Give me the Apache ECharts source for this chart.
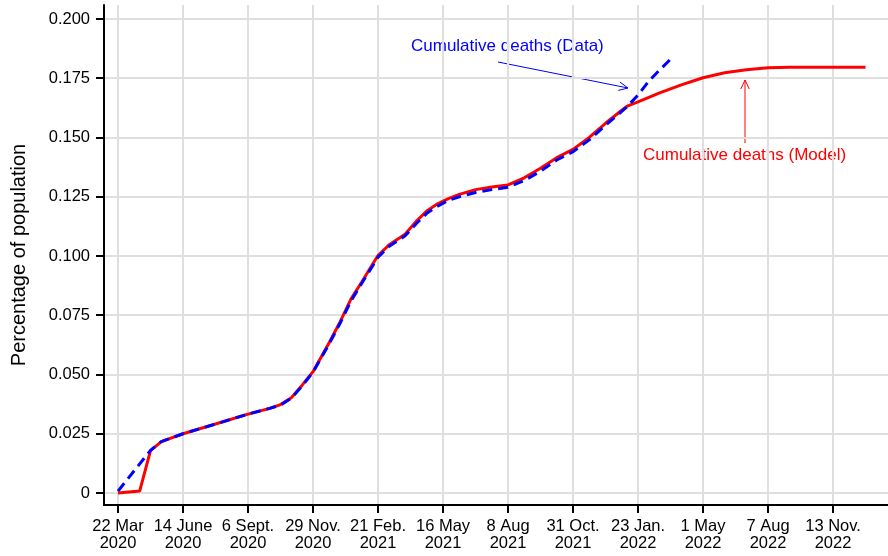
<!DOCTYPE html>
<html>
<head>
<meta charset="utf-8">
<script src="https://cdn.jsdelivr.net/npm/echarts@6/dist/echarts.min.js"></script>
<style>
  html, body { margin: 0; padding: 0; background: #fff; }
  #chart { width: 888px; height: 556px; }
</style>
</head>
<body>
<div id="chart"></div>
<script>
// x axis: weeks since 22 Mar 2020, one tick every 12 weeks
const tickWeeks = [0, 12, 24, 36, 48, 60, 72, 84, 96, 108, 120, 132];
const tickLabels = [
  "22 Mar\n2020", "14 June\n2020", "6 Sept.\n2020", "29 Nov.\n2020",
  "21 Feb.\n2021", "16 May\n2021", "8 Aug\n2021", "31 Oct.\n2021",
  "23 Jan.\n2022", "1 May\n2022", "7 Aug\n2022", "13 Nov.\n2022"
];
const yTicks = [0, 0.025, 0.05, 0.075, 0.1, 0.125, 0.15, 0.175, 0.2];

// Cumulative deaths (Model)
const modelWeeks = [0, 4, 6, 8, 12, 18, 24, 28, 30, 32, 34, 36, 39, 41, 43, 45, 47, 48, 50, 53, 55, 57, 59,
  61, 63, 66, 69, 72, 75, 78, 81, 84, 87, 90, 93, 94, 96, 100, 104, 108, 112, 116, 120, 124, 138];
const modelValues = [0.0000, 0.0008, 0.0179, 0.0217, 0.0250, 0.0291, 0.0333, 0.0357, 0.0373, 0.0402, 0.0455,
  0.0512, 0.0635, 0.0722, 0.0818, 0.0890, 0.0965, 0.1002, 0.1046, 0.1092, 0.1145, 0.1190, 0.1220,
  0.1242, 0.1260, 0.1280, 0.1291, 0.1300, 0.1330, 0.1370, 0.1415, 0.1450, 0.1500, 0.1560, 0.1615, 0.1632,
  0.1650, 0.1688, 0.1722, 0.1752, 0.1773, 0.1786, 0.1794, 0.1796, 0.1796];

// Cumulative deaths (Data)
const dataWeeks = [0, 6, 8, 12, 18, 24, 28, 30, 32, 34, 36, 39, 41, 43, 45, 47, 48, 50, 53, 55, 57, 59,
  61, 63, 66, 69, 72, 75, 78, 81, 84, 87, 90, 93, 94, 96, 98, 100, 102];
const dataValues = [0.0008, 0.0180, 0.0217, 0.0250, 0.0291, 0.0333, 0.0357, 0.0371, 0.0400, 0.0452, 0.0510,
  0.0630, 0.0716, 0.0810, 0.0885, 0.0958, 0.0995, 0.1040, 0.1085, 0.1135, 0.1180, 0.1210,
  0.1235, 0.1250, 0.1268, 0.1280, 0.1290, 0.1318, 0.1358, 0.1405, 0.1440, 0.1490, 0.1552, 0.1610, 0.1630,
  0.1679, 0.1738, 0.1785, 0.1830];

const FONT = "Liberation Sans, Arial, Helvetica, sans-serif";

const zip = (xs, ys) => xs.map((x, i) => [x, ys[i]]);

// open "V" arrow head at tip, pointing away from `from`
const arrowHead = (from, tip, len, ang) => {
  const dx = from[0] - tip[0], dy = from[1] - tip[1];
  const d = Math.hypot(dx, dy);
  const ux = dx / d, uy = dy / d;
  const rot = (a) => [
    tip[0] + len * (ux * Math.cos(a) - uy * Math.sin(a)),
    tip[1] + len * (ux * Math.sin(a) + uy * Math.cos(a))
  ];
  return [rot(ang), tip, rot(-ang)];
};

const arrow = (from, tip, color) => [
  { type: "line", shape: { x1: from[0], y1: from[1], x2: tip[0], y2: tip[1] },
    style: { stroke: color, lineWidth: 1 } },
  { type: "polyline", shape: { points: arrowHead(from, tip, 10, 0.44) },
    style: { stroke: color, lineWidth: 1, fill: null } }
];

const note = (text, left, top, color) => ({
  type: "text", left: left, top: top,
  style: { text: text, fill: color, font: "17px " + FONT }
});

const chart = echarts.init(document.getElementById("chart"));

chart.setOption({
  animation: false,
  backgroundColor: "#fff",
  grid: { left: 104, right: 0, top: 5, bottom: 51 },
  xAxis: {
    type: "value",
    min: -2.585,
    max: 142.15,
    axisLine: { onZero: false, lineStyle: { color: "#000", width: 2 } },
    axisTick: { customValues: tickWeeks, length: 8, lineStyle: { color: "#000", width: 2 } },
    axisLabel: {
      customValues: tickWeeks,
      margin: 13,
      color: "#000",
      fontFamily: FONT,
      fontSize: 16.5,
      lineHeight: 17,
      formatter: (v) => tickLabels[tickWeeks.indexOf(v)] || ""
    },
    splitLine: { show: true, lineStyle: { color: "#dfdfdf", width: 2 } }
  },
  yAxis: {
    type: "value",
    min: -0.00506,
    max: 0.2059,
    name: "Percentage of population",
    nameLocation: "middle",
    nameGap: 75,
    nameTextStyle: { color: "#000", fontFamily: FONT, fontSize: 20 },
    axisLine: { show: true, onZero: false, lineStyle: { color: "#000", width: 2 } },
    axisTick: { show: true, customValues: yTicks, length: 8, lineStyle: { color: "#000", width: 2 } },
    axisLabel: {
      customValues: yTicks,
      margin: 14,
      color: "#000",
      fontFamily: FONT,
      fontSize: 16.5,
      formatter: (v) => (v === 0 ? "0" : v.toFixed(3))
    },
    splitLine: { show: true, lineStyle: { color: "#dfdfdf", width: 2 } }
  },
  series: [
    {
      name: "Cumulative deaths (Model)",
      type: "line",
      data: zip(modelWeeks, modelValues),
      showSymbol: false,
      lineStyle: { color: "#ff0000", width: 3 },
      z: 2
    },
    {
      name: "Cumulative deaths (Data)",
      type: "line",
      data: zip(dataWeeks, dataValues),
      showSymbol: false,
      lineStyle: { color: "#0000ff", width: 3, type: [10, 6] },
      z: 3
    }
  ],
  graphic: [
    note("Cumulative deaths (Data)", 411, 38, "#0000ff"),
    ...arrow([498, 62], [628, 88], "#0000ff"),
    note("Cumulative deaths (Model)", 643, 147, "#ff0000"),
    ...arrow([745, 143], [745, 80], "#ff0000")
  ]
});
</script>
</body>
</html>
